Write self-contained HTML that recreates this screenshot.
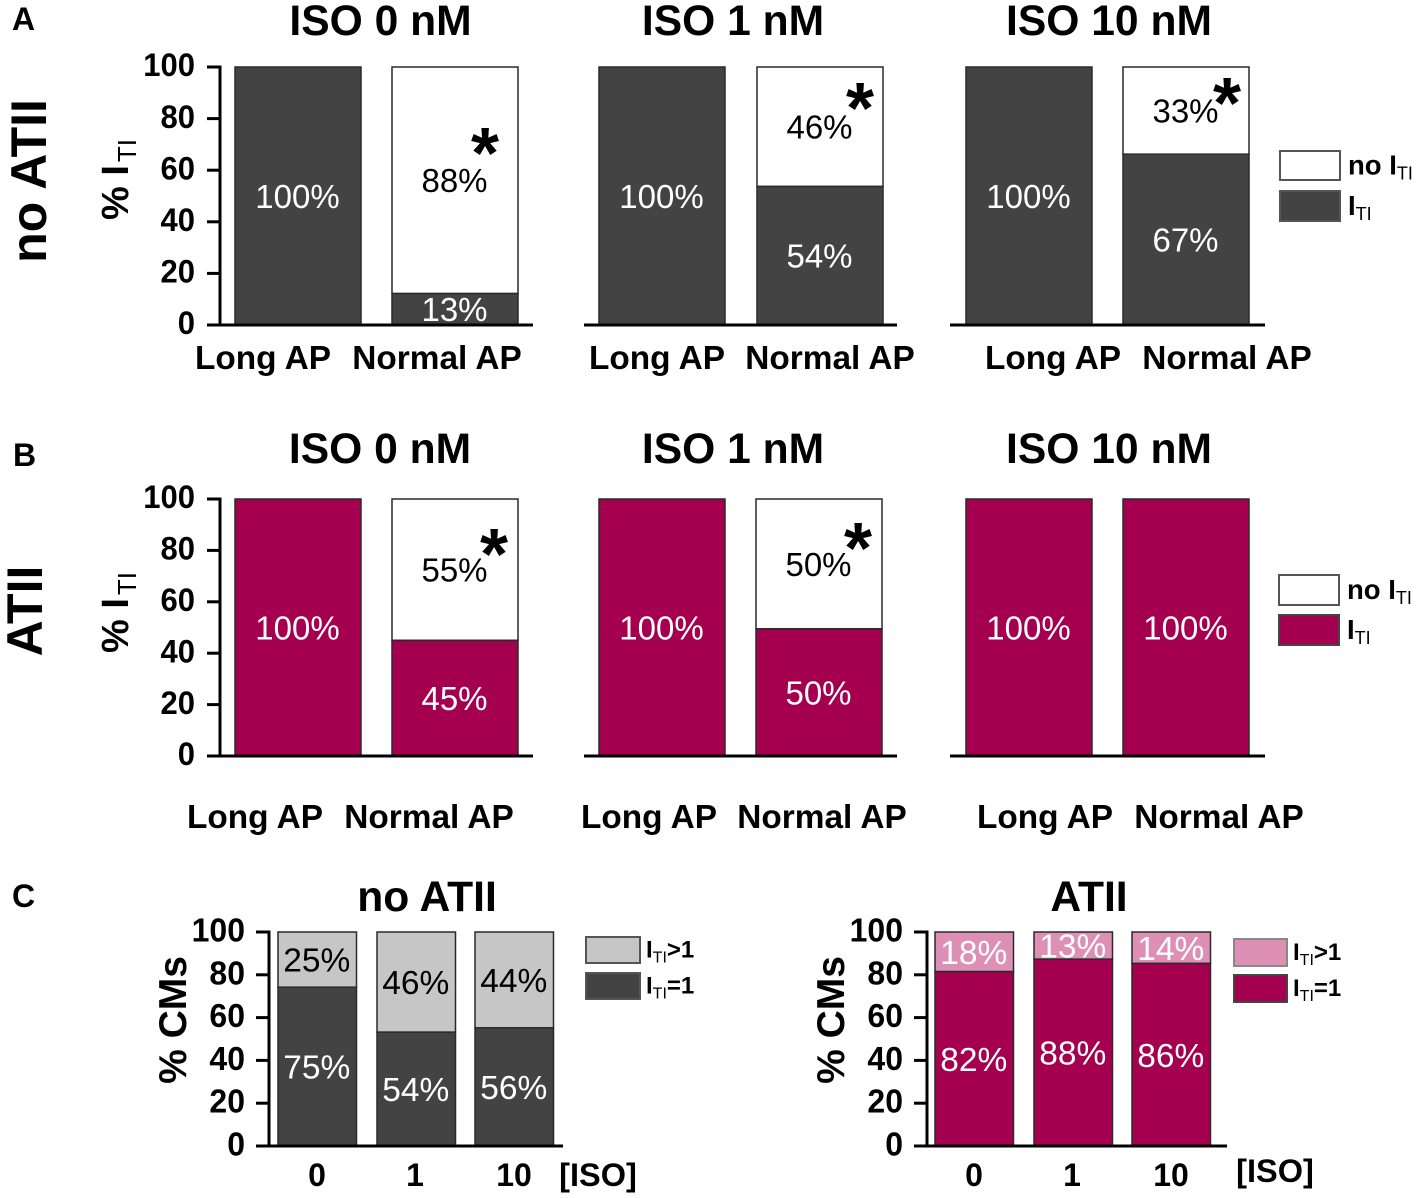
<!DOCTYPE html>
<html lang="en">
<head>
<meta charset="utf-8">
<title>ITI incidence by AP type and ISO concentration</title>
<style>
html,body{margin:0;padding:0;background:#fff;width:1417px;height:1198px;overflow:hidden}
svg{display:block;font-family:"Liberation Sans",Arial,sans-serif}
text{fill:#000}
.b{font-weight:700}
</style>
</head>
<body>
<svg id="figure" xmlns="http://www.w3.org/2000/svg" width="1417" height="1198" viewBox="0 0 1417 1198"></svg>
<script>
// ---------- data ----------
const isoTitles = ['ISO 0 nM', 'ISO 1 nM', 'ISO 10 nM'];
const apCategories = ['Long AP', 'Normal AP'];
const percentTicks = [0, 20, 40, 60, 80, 100];
const isoCategories = ['0', '1', '10'];

const noAtiiLongIti = [100, 100, 100];
const noAtiiNormalIti = [12.2, 53.7, 66.2];
const noAtiiLongItiLabels = ['100%', '100%', '100%'];
const noAtiiNormalItiLabels = ['13%', '54%', '67%'];
const noAtiiNormalNoItiLabels = ['88%', '46%', '33%'];

const atiiLongIti = [100, 100, 100];
const atiiNormalIti = [45, 49.5, 100];
const atiiLongItiLabels = ['100%', '100%', '100%'];
const atiiNormalItiLabels = ['45%', '50%', '100%'];
const atiiNormalNoItiLabels = ['55%', '50%', ''];

const noAtiiSingleIti = [74.2, 53.2, 55.2];
const noAtiiSingleLabels = ['75%', '54%', '56%'];
const noAtiiMultiLabels = ['25%', '46%', '44%'];

const atiiSingleIti = [81.5, 87.3, 85.3];
const atiiSingleLabels = ['82%', '88%', '86%'];
const atiiMultiLabels = ['18%', '13%', '14%'];

// ---------- layout ----------
const NS = 'http://www.w3.org/2000/svg';
const root = document.getElementById('figure');
const DARK = '#434343', MAGENTA = '#a50050', PINK = '#de8fb6', GRAY = '#c6c6c6', WHITE = '#ffffff';

function mk(tag, attrs, parent, txt) {
  const n = document.createElementNS(NS, tag);
  for (const k in attrs) n.setAttribute(k, attrs[k]);
  if (txt !== undefined) n.textContent = txt;
  parent.appendChild(n);
  return n;
}
function yScale(y0, y100) { return v => y0 + (y100 - y0) * v / 100; }

function drawSegment(g, x, w, yS, from, to, fill, label, textFill, fs, name) {
  const rect = mk('rect', {x: x, y: yS(to), width: w, height: yS(from) - yS(to), fill: fill, stroke: '#2a2a2a', 'stroke-width': 1.5}, g);
  
  
  if (label) {
    const t = mk('text', {x: x + w / 2 - 0.5, y: yS((from + to) / 2) + fs * 0.36, 'text-anchor': 'middle', 'font-size': fs, style: 'fill:' + textFill}, g, label);
    
    
  }
}

function drawAxis(g, yS, axisX, tickLeft, right, labelRight, fs, showY, sx) {
  const base = mk('line', {x1: tickLeft, x2: right, y1: yS(0), y2: yS(0), stroke: '#000', 'stroke-width': 3}, g);
  
  
  if (!showY) return;
  const axis = mk('line', {x1: axisX, x2: axisX, y1: yS(100) - 1.5, y2: yS(0), stroke: '#000', 'stroke-width': 3}, g);
  
  
  percentTicks.forEach(v => {
    const tick = mk('line', {x1: tickLeft, x2: axisX, y1: yS(v), y2: yS(v), stroke: '#000', 'stroke-width': 3}, g);
    
    
    const lab = mk('text', {'class': 'b', 'text-anchor': 'end', 'font-size': fs, transform: 'translate(' + labelRight + ' ' + (yS(v) + fs * 0.36 - 2) + ') scale(' + sx + ' 1.05)'}, g, String(v));
    
    
  });
}

function drawTitle(txt, cx, y) {
  const t = mk('text', {'class': 'b', x: cx, y: y, 'text-anchor': 'middle', 'font-size': 42.6}, root, txt);
  
  
}
function drawLetter(txt, x, y) {
  const t = mk('text', {'class': 'b', x: x, y: y, 'font-size': 32}, root, txt);
  
  
}
function drawStar(x, y) {
  const t = mk('text', {'class': 'b', x: x, y: y, 'text-anchor': 'middle', 'font-size': 72}, root, '*');
  
  
}
function drawRotated(txt, x, y, fs, name) {
  const t = mk('text', {'class': 'b', 'text-anchor': 'middle', 'font-size': fs, transform: 'translate(' + x + ' ' + y + ') rotate(-90)'}, root, txt);
  
  
}
function drawItiAxisTitle(x, yStart) {
  const t = mk('text', {'class': 'b', 'font-size': 38, transform: 'translate(' + x + ' ' + yStart + ') rotate(-90)'}, root);
  
  
  mk('tspan', {}, t, '% I');
  mk('tspan', {dx: 3, dy: 8, 'font-size': 26, 'font-weight': 400}, t, 'TI');
}
function drawLegendEntry(x, y, w, h, fill, stroke, prefix, suffix, textX, fs, subFs, name) {
  const r = mk('rect', {x: x, y: y, width: w, height: h, fill: fill, stroke: stroke, 'stroke-width': 2}, root);
  
  
  const t = mk('text', {'class': 'b', x: textX, y: y + h * 0.5 + fs * 0.36 - 1, 'font-size': fs}, root);
  
  
  mk('tspan', {}, t, prefix);
  mk('tspan', {dy: 5, 'font-size': subFs, 'font-weight': 400}, t, 'TI');
  if (suffix) mk('tspan', {dy: -5}, t, suffix);
}

// Rows A and B
const rowLongX = [235, 599, 966];
const rowBarW = 126;
const rowBaseLeft = [207, 584, 950];
const rowBaseRight = [533, 897, 1265];

function drawApRow(cfg) {
  const yS = yScale(cfg.y0, cfg.y100);
  isoTitles.forEach((title, i) => {
    drawTitle(title, cfg.titleX[i], cfg.titleY);
    const g = mk('g', {}, root);
    
    
    drawSegment(g, rowLongX[i], rowBarW, yS, 0, cfg.longVals[i], cfg.color, cfg.longLabels[i], '#fff', 33, 'long-ap-iti-bar');
    drawSegment(g, cfg.normalX[i], rowBarW, yS, cfg.normalVals[i], 100, WHITE, cfg.noItiLabels[i], '#000', 33, 'normal-ap-no-iti-bar');
    drawSegment(g, cfg.normalX[i], rowBarW, yS, 0, cfg.normalVals[i], cfg.color, cfg.itiLabels[i], '#fff', 33, 'normal-ap-iti-bar');
    drawAxis(g, yS, 220, rowBaseLeft[i], rowBaseRight[i], 195, 31, i === 0, 1);
    apCategories.forEach((cat, c) => {
      const t = mk('text', {'class': 'b', x: cfg.catX[i][c], y: cfg.catY, 'text-anchor': 'middle', 'font-size': 33.4}, g, cat);
      
      
    });
  });
}

drawApRow({name: 'no-atii', y0: 325, y100: 67, color: DARK, longVals: noAtiiLongIti, normalVals: noAtiiNormalIti,
  longLabels: noAtiiLongItiLabels, itiLabels: noAtiiNormalItiLabels, noItiLabels: noAtiiNormalNoItiLabels,
  normalX: [392, 757, 1123], titleX: [380.5, 733, 1109], titleY: 35,
  catX: [[263, 437], [657, 830], [1053, 1227]], catY: 369});
drawApRow({name: 'atii', y0: 756, y100: 499, color: MAGENTA, longVals: atiiLongIti, normalVals: atiiNormalIti,
  longLabels: atiiLongItiLabels, itiLabels: atiiNormalItiLabels, noItiLabels: atiiNormalNoItiLabels,
  normalX: [392, 756, 1123], titleX: [380, 733, 1109], titleY: 463,
  catX: [[255, 429], [649, 822], [1045, 1219]], catY: 828});

// Row C
function drawIsoPanel(cfg) {
  const yS = yScale(1146, 932);
  const g = mk('g', {}, root);
  
  
  isoCategories.forEach((cat, i) => {
    drawSegment(g, cfg.barX[i], 78.5, yS, cfg.vals[i], 100, cfg.top, cfg.topLabels[i], cfg.topText, 33.5, 'multi-iti-bar');
    drawSegment(g, cfg.barX[i], 78.5, yS, 0, cfg.vals[i], cfg.bottom, cfg.bottomLabels[i], '#fff', 33.5, 'single-iti-bar');
    const t = mk('text', {'class': 'b', x: cfg.catX[i], y: 1186, 'text-anchor': 'middle', 'font-size': 32}, g, cat);
    
    
  });
  drawAxis(g, yS, cfg.axisX, cfg.axisX - 13, cfg.right, cfg.axisX - 24, 32, true, 1);
  const iso = mk('text', {'class': 'b', x: cfg.isoX, y: cfg.isoY, 'text-anchor': 'middle', 'font-size': 32.5}, g, '[ISO]');
  
  
}
drawTitle('no ATII', 427, 911);
drawTitle('ATII', 1089, 911);
drawIsoPanel({name: 'no-atii', axisX: 269, right: 563, barX: [278, 377, 475], catX: [317, 415, 514], isoX: 598, isoY: 1186,
  vals: noAtiiSingleIti, top: GRAY, bottom: DARK, topText: '#000', topLabels: noAtiiMultiLabels, bottomLabels: noAtiiSingleLabels});
drawIsoPanel({name: 'atii', axisX: 927, right: 1227, barX: [935, 1034, 1132], catX: [974, 1072, 1171], isoX: 1275, isoY: 1182,
  vals: atiiSingleIti, top: PINK, bottom: MAGENTA, topText: '#fff', topLabels: atiiMultiLabels, bottomLabels: atiiSingleLabels});

// Annotations
drawLetter('A', 12, 30);
drawLetter('B', 13, 466);
drawLetter('C', 12, 907);
drawRotated('no ATII', 46, 181, 50, 'row-label-no-atii');
drawRotated('ATII', 42, 611, 50, 'row-label-atii');
drawItiAxisTitle(128, 220);
drawItiAxisTitle(128, 653);
drawRotated('% CMs', 186, 1020, 39, 'y-axis-title-cms');
drawRotated('% CMs', 844, 1020, 39, 'y-axis-title-cms');
drawStar(485, 178);
drawStar(860, 133);
drawStar(1227, 128);
drawStar(494, 579);
drawStar(858, 573);

// Legends
drawLegendEntry(1280, 151, 60, 29, WHITE, '#555', 'no I', '', 1348, 27.5, 18, 'legend-no-iti');
drawLegendEntry(1280, 191, 60, 30, DARK, '#555', 'I', '', 1348, 27.5, 18, 'legend-iti');
drawLegendEntry(1279, 575, 60, 30, WHITE, '#555', 'no I', '', 1347, 27.5, 18, 'legend-no-iti');
drawLegendEntry(1279, 615, 60, 30, MAGENTA, '#444', 'I', '', 1347, 27.5, 18, 'legend-iti');
drawLegendEntry(586, 937, 54, 26, GRAY, '#555', 'I', '>1', 646, 24, 16, 'legend-multi-iti');
drawLegendEntry(586, 973, 54, 26, DARK, '#555', 'I', '=1', 646, 24, 16, 'legend-single-iti');
drawLegendEntry(1234, 939, 53, 27, PINK, '#888', 'I', '>1', 1293, 24, 16, 'legend-multi-iti');
drawLegendEntry(1234, 975, 53, 27, MAGENTA, '#444', 'I', '=1', 1293, 24, 16, 'legend-single-iti');
</script>
</body>
</html>
